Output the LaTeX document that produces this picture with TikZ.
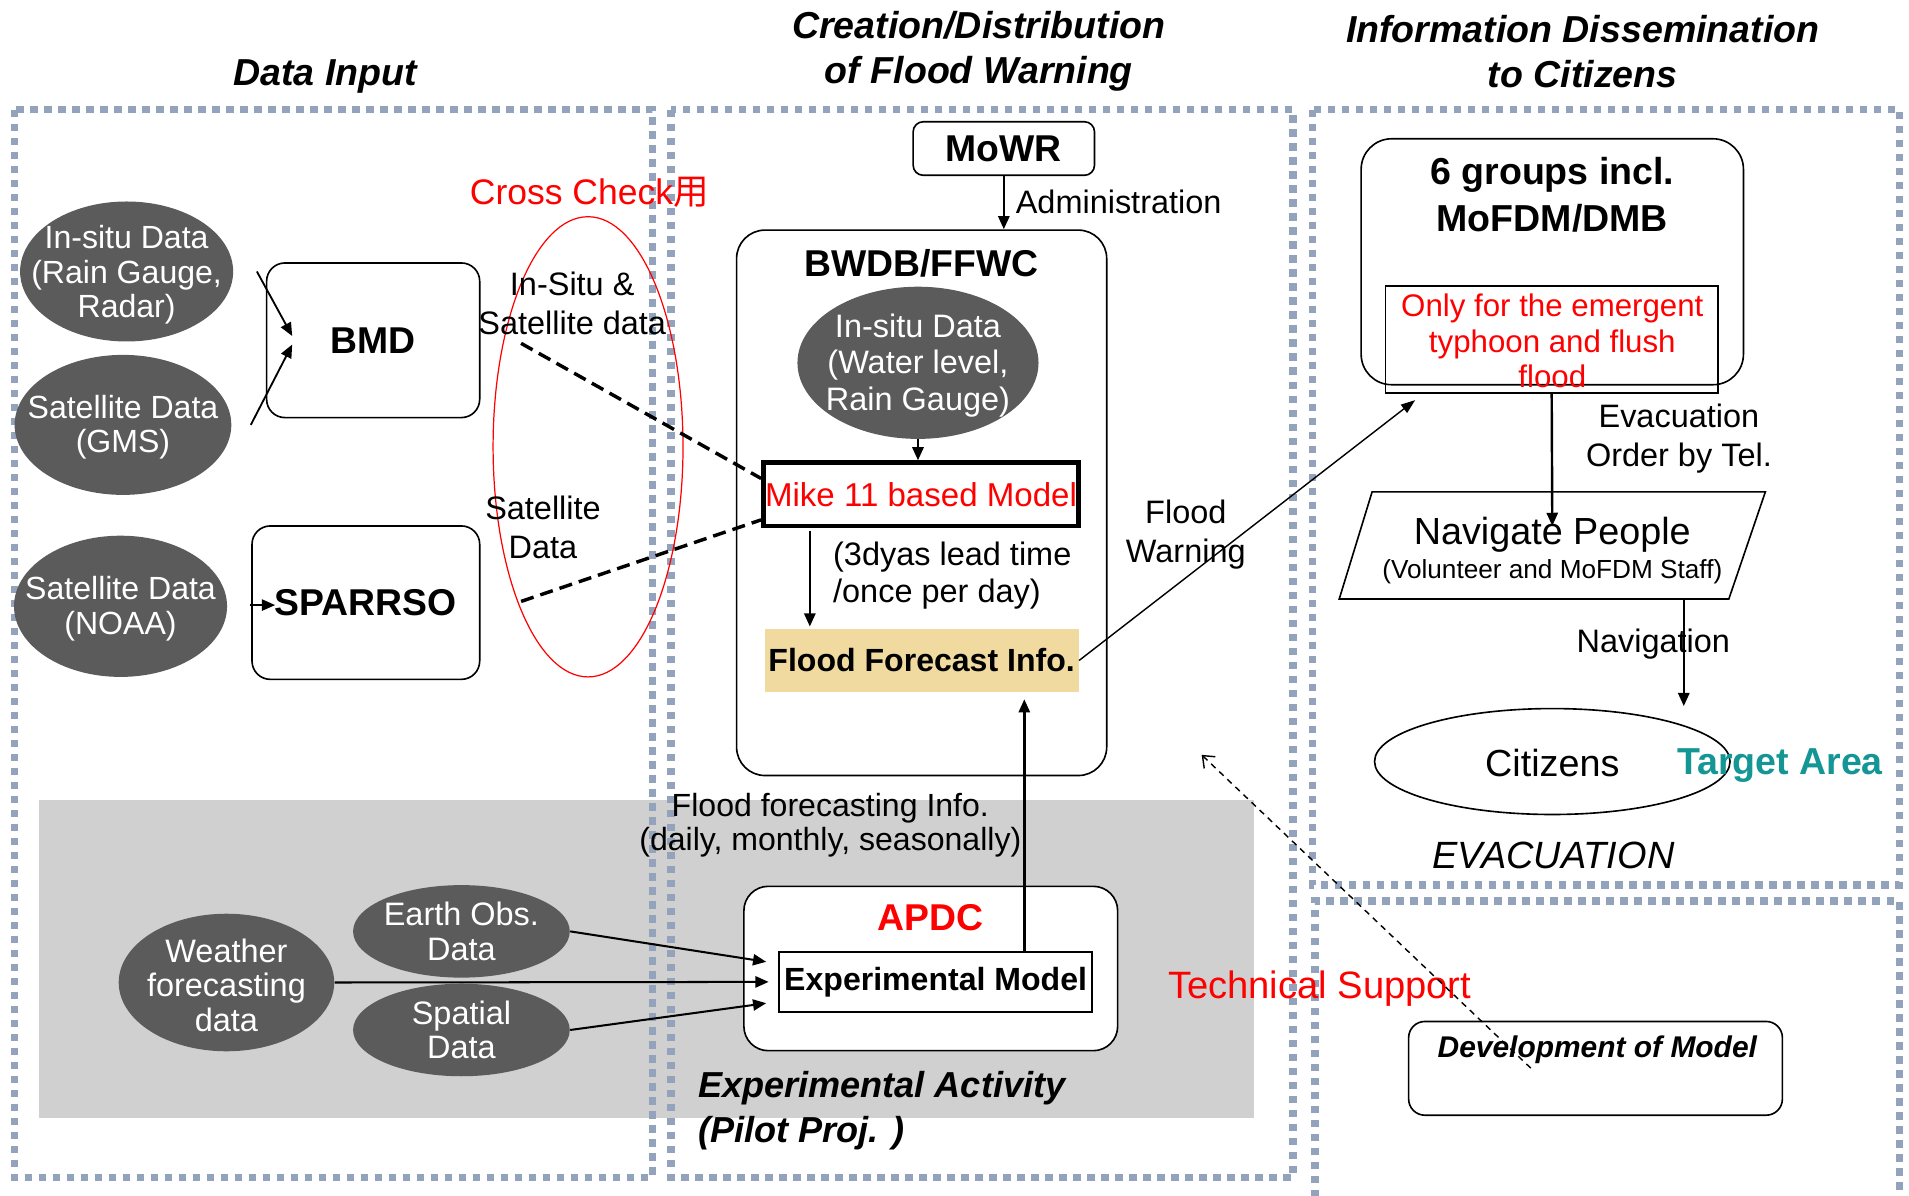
\documentclass[tikz,border=0pt]{standalone}
\usepackage{fontspec}
\setmainfont{Liberation Sans}
\newfontfamily\cjkfont{Noto Sans CJK SC}
\usetikzlibrary{shapes.geometric,arrows.meta,calc}
\definecolor{framecol}{RGB}{148,163,188}
\definecolor{ellfill}{RGB}{91,91,91}
\definecolor{greybg}{RGB}{208,208,208}
\definecolor{ffifill}{RGB}{241,218,160}
\definecolor{tealcol}{RGB}{20,150,150}
\newcommand{\fsz}[2]{\fontsize{#1}{#2}\selectfont}
\begin{document}
\begin{tikzpicture}[x=0.6pt,y=-0.6pt,
  frame/.style={draw=framecol,line width=3.7pt,dash pattern=on 3.7pt off 3.2pt},
  dell/.style={ellipse,fill=ellfill,inner sep=0pt},
  etxt/.style={text=white,align=center,inner sep=0pt,font=\fsz{15.8}{17}},
  rbox/.style={draw,rounded corners=9pt,line width=0.8pt,inner sep=0pt},
  sbox/.style={draw,line width=0.8pt,inner sep=0pt},
  arr/.style={-{Triangle[length=6.5pt,width=5.5pt]},line width=1.2pt},
  dline/.style={line width=1.7pt,dash pattern=on 6.5pt off 3.5pt},
  tsarrow/.style={line width=0.7pt,dash pattern=on 3pt off 2.5pt,-{Straight Barb[length=5pt,width=8pt]}},
  title/.style={font=\fsz{18.5}{22.2}\bfseries\itshape,align=center,inner sep=0pt},
  lbl/.style={font=\fsz{16}{19.2},align=center,inner sep=0pt},
  bt/.style={font=\fsz{18.4}{22}\bfseries,inner sep=0pt,align=center}
]
\useasboundingbox (0,0) rectangle (1568,982);
\fill[white] (0,0) rectangle (1568,982);
\fill[greybg] (32,657) rectangle (1030,918);
% frames
\draw[frame] (12,90) rectangle (536,967);
\draw[frame] (551,90) rectangle (1062,967);
\draw[frame] (1078,90) rectangle (1560,727);
\draw[frame] (1080,995) -- (1080,740) -- (1560,740) -- (1560,995);
% titles
\node[title] (tin) at (267,63) {Data Input};
\node[title] (tcr) at (804,42) {Creation/Distribution\\of Flood Warning};
\node[title] (tdi) at (1300,42) {Information Dissemination\\to Citizens};

% ---- Data input
\node[dell,minimum width=105pt,minimum height=69pt] (insitu) at (104,223) {};
\node[etxt] (insitut) at (104,226) {In-situ Data\\(Rain Gauge,\\Radar)};
\node[dell,minimum width=106.8pt,minimum height=69pt] (gms) at (101,349) {};
\node[etxt] (gmst) at (101,351) {Satellite Data\\(GMS)};
\node[dell,minimum width=105pt,minimum height=69.6pt] (noaa) at (99,498) {};
\node[etxt] (noaat) at (99,500) {Satellite Data\\(NOAA)};

\node[rbox,bt,minimum width=105pt,minimum height=76.2pt] (bmd) at (306.5,279.5) {BMD};
\node[rbox,bt,minimum width=112.2pt,minimum height=75.6pt] (sparrso) at (300.5,495) {SPARRSO};

\coordinate (b1) at (211,223);
\coordinate (b1e) at (240,276);
\coordinate (b2) at (206,349);
\coordinate (b2e) at (240,283);
\draw[arr,line width=0.9pt] (b1) -- (b1e);
\draw[arr,line width=0.9pt] (b2) -- (b2e);
\coordinate (s1) at (205,497);
\coordinate (s1e) at (226,497);
\draw[arr,line width=0.9pt] (s1) -- (s1e);

\draw[red,line width=0.6pt] (483,367) ellipse [x radius=78,y radius=189];
\node[font=\fsz{17.5}{20},text=red,inner sep=0pt] (cc) at (484,158) {Cross Check{\cjkfont 用}};
\node[lbl] (isl) at (470,249) {In-Situ \&\\Satellite data};
\node[lbl] (sdl) at (446,433) {Satellite\\Data};

% ---- Creation column
\node[rbox,bt,minimum width=89.4pt,minimum height=26.4pt,rounded corners=5pt] (mowr) at (824.5,122) {MoWR};
\node[rbox,minimum width=182.4pt,minimum height=268.8pt,rounded corners=14pt] (bwdb) at (757,413) {};
\node[bt] (bwdbt) at (757,216) {BWDB/FFWC};
\draw[arr] (mowr.south) -- (mowr.south |- bwdb.north);
\node[lbl,anchor=west] (adm) at (834,166) {Administration};

\node[dell,minimum width=118.8pt,minimum height=75pt] (insitu2) at (754,298) {};
\node[etxt,font=\fsz{16}{18}] (insitu2t) at (754,300) {In-situ Data\\(Water level,\\Rain Gauge)};
\node[draw,line width=2.2pt,minimum width=155.4pt,minimum height=31.2pt,inner sep=0pt,text=red,font=\fsz{16.3}{19}] (mike) at (756.5,406) {\raisebox{-1.2pt}{Mike 11 based Model}};
\draw[arr] (insitu2.south) -- (insitu2.south |- mike.north);

\node[fill=ffifill,minimum width=154.8pt,minimum height=30.6pt,inner sep=0pt,font=\fsz{15.8}{19}\bfseries] (ffi) at (757,542.5) {\raisebox{-1.2pt}{Flood Forecast Info.}};
\draw[arr] ($(mike.south west)+(40,2)$) -- ($(mike.south west |- ffi.north)+(40,-2)$);
\node[lbl,anchor=west,align=left,font=\fsz{16}{18}] (lead) at (684,473) {(3dyas lead time\\/once per day)};

\coordinate (c1) at (428,282);
\coordinate (c2) at (428,494);
\draw[dline] (c1) -- ($(mike.west)+(0,-13)$);
\draw[dline] (c2) -- ($(mike.west)+(0,21)$);

% ---- Experimental activity
\node[rbox,fill=white,minimum width=184.2pt,minimum height=81pt,rounded corners=12pt] (apdc) at (764.5,795.5) {};
\node[bt,text=red] (apdct) at (764,754) {APDC};
\node[sbox,fill=white,minimum width=154.2pt,minimum height=29.4pt,font=\fsz{15.8}{19}\bfseries] (expm) at (768.5,806.5) {\raisebox{-1.5pt}{Experimental Model}};
\draw[arr] ($(expm.north west)+(202,0)$) -- ($(expm.north west |- ffi.south)+(202,6)$);

\node[dell,minimum width=106.2pt,minimum height=67.8pt] (wea) at (186,807) {};
\node[etxt,font=\fsz{16}{17}] (weat) at (186,809) {Weather\\forecasting\\data};
\node[dell,minimum width=106.8pt,minimum height=45.6pt] (eob) at (379,765) {};
\node[etxt,font=\fsz{16}{17}] (eobt) at (379,765) {Earth Obs.\\Data};
\node[dell,minimum width=106.8pt,minimum height=45.6pt] (spa) at (379,846) {};
\node[etxt,font=\fsz{16}{17}] (spat) at (379,846) {Spatial\\Data};

\draw[arr,line width=1pt] (eob.east) -- ($(expm.west)+(-10,-16.5)$);
\draw[arr,line width=1pt] (wea.east) -- ($(expm.west)+(-8,0)$);
\draw[arr,line width=1pt] (spa.east) -- ($(expm.west)+(-10,17.5)$);

\node[lbl,font=\fsz{15.8}{16.8}] (ffil) at (682,678) {Flood forecasting Info.\\(daily, monthly, seasonally)};
\node[anchor=west,align=left,inner sep=0pt,font=\fsz{17.8}{22.2}\bfseries\itshape] (expa) at (573,912) {Experimental Activity\\(Pilot Proj. )};
\node[lbl] (fw) at (974,439) {Flood\\Warning};
\node[inner sep=0pt,text=red,font=\fsz{18.8}{22}] (ts) at (1084,812) {Technical Support};

% ---- Information column
\node[rbox,minimum width=188.4pt,minimum height=121.2pt,rounded corners=15pt] (grp) at (1275,215) {};
\node[bt,font=\fsz{18.5}{22.8}\bfseries] (grpt) at (1275,160) {6 groups incl.\\MoFDM/DMB};
\node[sbox,minimum width=163.8pt,minimum height=52.8pt] (redb) at (1274.5,279) {};
\node[inner sep=0pt,text=red,align=center,font=\fsz{15.4}{17.4}] (redbt) at (1275,280) {Only for the emergent\\typhoon and flush\\flood};

\draw[line width=0.7pt,-{Triangle[length=7pt,width=5pt]}] (ffi.east) -- ($(redb.south west)+(25,5)$);

\coordinate (p1) at (1127,404);
\coordinate (p2) at (1450,404);
\coordinate (p3) at (1420,492);
\coordinate (p4) at (1100,492);
\draw[line width=0.8pt] (p1) -- (p2) -- (p3) -- (p4) -- cycle;
\node[inner sep=0pt,font=\fsz{18.6}{20}] (navt) at (1275,439) {Navigate People};
\node[inner sep=0pt,font=\fsz{12.9}{15}] (navs) at (1275,470) {(Volunteer and MoFDM Staff)};
\draw[arr] (redb.south) -- ($(navt.center)+(0,-7)$);
\node[lbl] (evl) at (1379,360) {Evacuation\\Order by Tel.};

\coordinate (nb) at (1383,492);
\node[draw,ellipse,line width=0.8pt,minimum width=175.2pt,minimum height=52.2pt,inner sep=0pt] (cit) at (1275,625.5) {};
\node[inner sep=0pt,font=\fsz{18.6}{20}] (citt) at (1275,627) {Citizens};
\draw[arr] (nb) -- ($(nb)+(0,88)$);
\node[lbl] (navl) at (1358,529) {Navigation};
\node[inner sep=0pt,text=tealcol,font=\fsz{18.5}{20}\bfseries] (ta) at (1462,629) {Target Area};
\node[inner sep=0pt,font=\fsz{18.7}{20}\itshape] (evac) at (1276,703) {EVACUATION};

% ---- Development of model
\node[rbox,minimum width=184.2pt,minimum height=46.2pt,rounded corners=8pt] (dev) at (1310.5,877.5) {};
\node[inner sep=0pt,font=\fsz{14.75}{17}\bfseries\itshape] (devt) at (1312,862) {Development of Model};
\coordinate (tsend) at (987,620);
\draw[tsarrow] ($(dev.north west)+(101,39)$) -- (tsend);
\end{tikzpicture}
\end{document}
